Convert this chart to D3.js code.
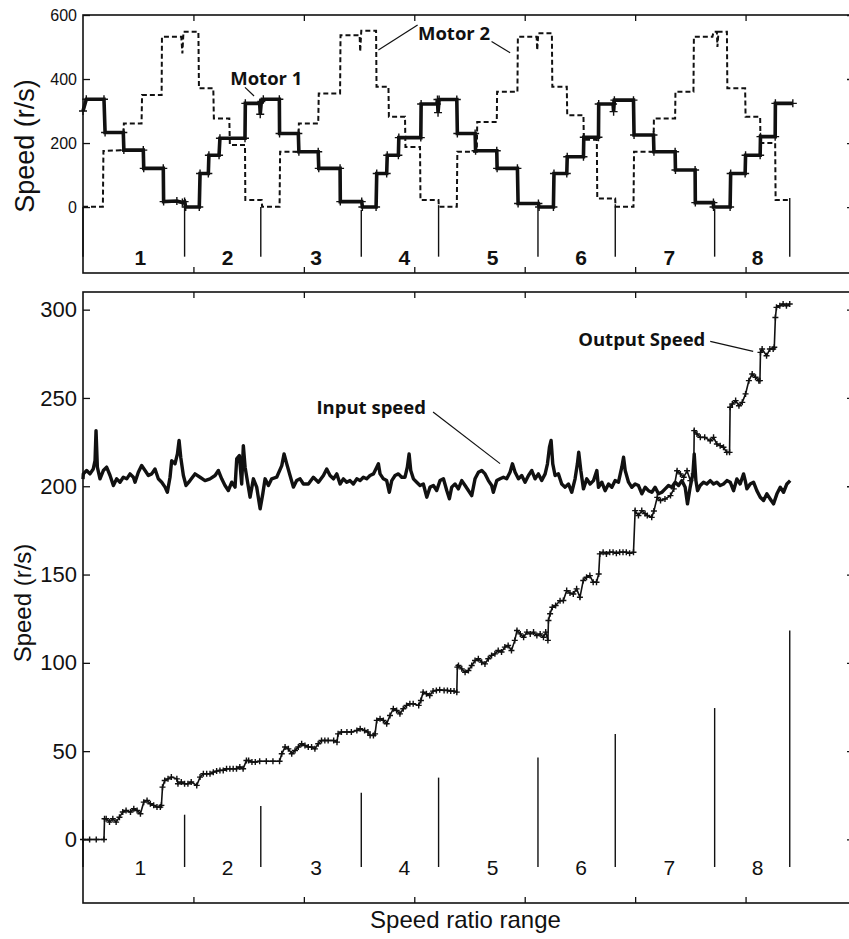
<!DOCTYPE html>
<html>
<head>
<meta charset="utf-8">
<script src="https://cdn.jsdelivr.net/npm/d3@7"></script>
<style>
  body { margin: 0; background: #fff; }
  svg { display: block; }
</style>
</head>
<body>
<svg id="chart" width="849" height="939"></svg>
<script>
// ---- data (time in arbitrary units along the speed-ratio sweep) ----
const rangeLabels = ['1', '2', '3', '4', '5', '6', '7', '8'];
const rangeLabelT = [0.52, 1.31, 2.11, 2.91, 3.71, 4.51, 5.31, 6.11];
const boundaryT = [0, 0.92, 1.61, 2.52, 3.22, 4.12, 4.82, 5.72, 6.40];
const topBoundaryTop = [0, 17, 0, -9, 6, -3, 9, -6, 28];
const bottomBoundaryTop = [11, 14, 19, 26.5, 35, 46.4, 59.7, 74.4, 118.3];

const topTicks = [0, 200, 400, 600];
const bottomTicks = [0, 50, 100, 150, 200, 250, 300];
const xTicks = [1, 2, 3, 4, 5, 6];

const motor1 = [
  [0, 300], [0.03, 337], [0.19, 337], [0.2, 233], [0.365, 233], [0.37, 178], [0.546, 178], [0.55, 121],
  [0.727, 121], [0.73, 17], [0.85, 19], [0.9, 14], [0.92, 17], [0.93, 0], [1.053, 0], [1.06, 105],
  [1.135, 105], [1.14, 162], [1.232, 162], [1.24, 215], [1.467, 215], [1.47, 324], [1.6, 324], [1.605, 290],
  [1.615, 330], [1.633, 337], [1.778, 337], [1.78, 230], [1.95, 230], [1.955, 173], [2.13, 173], [2.135, 121],
  [2.328, 121], [2.33, 17], [2.524, 17], [2.53, 0], [2.654, 0], [2.66, 105], [2.75, 105], [2.755, 162],
  [2.856, 162], [2.86, 217], [3.059, 217], [3.062, 322], [3.204, 322], [3.21, 336], [3.215, 295], [3.225, 336],
  [3.385, 336], [3.39, 230], [3.551, 230], [3.555, 176], [3.747, 176], [3.75, 121], [3.934, 121], [3.94, 11],
  [4.124, 11], [4.13, 0], [4.26, 0], [4.265, 105], [4.381, 105], [4.385, 157], [4.532, 157], [4.535, 218],
  [4.668, 218], [4.67, 322], [4.8, 322], [4.805, 298], [4.812, 334], [4.985, 334], [4.99, 225], [5.166, 225],
  [5.17, 173], [5.362, 173], [5.365, 116], [5.543, 116], [5.545, 14], [5.709, 14], [5.71, 0], [5.86, 0],
  [5.865, 105], [5.996, 105], [6.0, 162], [6.132, 162], [6.135, 220], [6.268, 220], [6.27, 324], [6.428, 324]
];

const motor2 = [
  [0, 1], [0.18, 1], [0.185, 175], [0.365, 178], [0.37, 261], [0.53, 261], [0.535, 350], [0.712, 350],
  [0.715, 532], [0.89, 532], [0.9, 480], [0.91, 548], [1.045, 548], [1.05, 371], [1.18, 371], [1.185, 277],
  [1.325, 277], [1.33, 194], [1.467, 194], [1.47, 22], [1.618, 22], [1.622, 1], [1.78, 1], [1.785, 173],
  [1.95, 173], [1.955, 261], [2.13, 261], [2.135, 355], [2.328, 355], [2.332, 537], [2.505, 537], [2.51, 485],
  [2.52, 551], [2.654, 551], [2.658, 376], [2.766, 376], [2.77, 282], [2.916, 282], [2.92, 188], [3.052, 188],
  [3.056, 22], [3.219, 22], [3.223, 1], [3.385, 1], [3.39, 173], [3.566, 173], [3.57, 266], [3.747, 266],
  [3.75, 360], [3.934, 360], [3.938, 532], [4.108, 532], [4.113, 490], [4.123, 543], [4.246, 543], [4.25, 376],
  [4.381, 376], [4.385, 287], [4.532, 287], [4.535, 210], [4.653, 210], [4.657, 27], [4.819, 27], [4.823, 1],
  [4.985, 1], [4.99, 173], [5.166, 173], [5.17, 277], [5.362, 277], [5.365, 360], [5.528, 360], [5.532, 532],
  [5.7, 532], [5.71, 548], [5.74, 548], [5.745, 500], [5.755, 548], [5.831, 548], [5.835, 371], [5.996, 371],
  [6.0, 282], [6.132, 282], [6.135, 200], [6.268, 200], [6.272, 22], [6.404, 22]
];

const inputSpeed = [
  [0, 204], [0.003, 207], [0.033, 208.9], [0.063, 207], [0.093, 209.8], [0.109, 214.5], [0.118, 231.5], [0.13, 210.8],
  [0.154, 204.2], [0.184, 208.9], [0.214, 210.8], [0.245, 206.1], [0.275, 200.4], [0.305, 204.2], [0.335, 202.3], [0.365, 205.1],
  [0.396, 204.2], [0.426, 207], [0.456, 205.1], [0.471, 202.3], [0.501, 207.9], [0.531, 211.7], [0.562, 208.9], [0.592, 206.1],
  [0.622, 207], [0.652, 209.8], [0.682, 204.2], [0.713, 202.3], [0.743, 199.5], [0.764, 196.6], [0.788, 205.1], [0.803, 214.5],
  [0.833, 212.7], [0.855, 218.3], [0.87, 225.9], [0.885, 216.4], [0.909, 206.1], [0.933, 200.4], [0.969, 203.2], [1.014, 207],
  [1.06, 205.1], [1.105, 203.2], [1.15, 204.2], [1.196, 206.1], [1.226, 208.9], [1.256, 204.2], [1.286, 200.4], [1.316, 197.6],
  [1.347, 202.3], [1.377, 199.5], [1.392, 215.5], [1.416, 217.4], [1.437, 201.3], [1.452, 223], [1.468, 210.8], [1.483, 205.1],
  [1.513, 193.8], [1.543, 204.2], [1.573, 199.5], [1.604, 187.2], [1.628, 195.7], [1.649, 204.2], [1.679, 200.4], [1.709, 204.2],
  [1.754, 205.1], [1.8, 211.7], [1.821, 218.3], [1.845, 212.7], [1.875, 206.1], [1.905, 199.5], [1.935, 203.2], [1.966, 204.2],
  [1.996, 201.3], [2.041, 201.3], [2.086, 205.1], [2.132, 202.3], [2.177, 206.1], [2.207, 209.8], [2.237, 206.1], [2.268, 204.2],
  [2.298, 207], [2.328, 201.3], [2.358, 204.2], [2.388, 202.3], [2.418, 203.2], [2.448, 201.3], [2.479, 204.2], [2.509, 203.2],
  [2.539, 205.1], [2.569, 204.2], [2.599, 206.1], [2.63, 207], [2.66, 210.8], [2.675, 212.7], [2.69, 207], [2.72, 204.2],
  [2.75, 203.2], [2.774, 196.6], [2.796, 203.2], [2.826, 206.1], [2.856, 207], [2.886, 205.1], [2.916, 205.1], [2.937, 210.8],
  [2.953, 218.3], [2.968, 208.9], [2.992, 204.2], [3.022, 202.3], [3.052, 200.4], [3.082, 201.3], [3.113, 193.8], [3.143, 199.5],
  [3.173, 200.4], [3.203, 197.6], [3.233, 203.2], [3.264, 204.2], [3.294, 197.6], [3.318, 192.9], [3.339, 199.5], [3.369, 201.3],
  [3.399, 198.5], [3.43, 203.2], [3.46, 200.4], [3.49, 197.6], [3.52, 194.7], [3.55, 204.2], [3.581, 207.9], [3.611, 208.9],
  [3.641, 207], [3.671, 203.2], [3.701, 200.4], [3.716, 196.6], [3.747, 203.2], [3.777, 204.2], [3.807, 205.1], [3.837, 204.2],
  [3.867, 207.9], [3.889, 212.7], [3.913, 207.9], [3.943, 204.2], [3.973, 206.1], [4.003, 202.3], [4.034, 206.1], [4.064, 208.9],
  [4.094, 204.2], [4.124, 207], [4.154, 203.2], [4.185, 207], [4.206, 212.7], [4.224, 222.1], [4.239, 225.9], [4.254, 212.7],
  [4.275, 206.1], [4.305, 207], [4.335, 201.3], [4.366, 199.5], [4.396, 201.3], [4.426, 196.6], [4.456, 204.2], [4.477, 212.7],
  [4.489, 219.3], [4.508, 208.9], [4.532, 198.5], [4.562, 204.2], [4.592, 201.3], [4.623, 203.2], [4.653, 208.9], [4.668, 199.4],
  [4.698, 202.3], [4.728, 197.5], [4.759, 201.3], [4.789, 199.4], [4.819, 203.2], [4.849, 202.3], [4.879, 210.8], [4.895, 216.4],
  [4.91, 208.9], [4.94, 202.3], [4.97, 199.4], [5.0, 201.3], [5.03, 200.4], [5.061, 195.7], [5.091, 199.4], [5.121, 197.5],
  [5.151, 196.6], [5.181, 199.4], [5.212, 195.7], [5.242, 196.6], [5.272, 198.5], [5.302, 200.4], [5.332, 199.4], [5.363, 202.3],
  [5.393, 200.4], [5.423, 203.2], [5.453, 199.4], [5.474, 190], [5.498, 199.4], [5.523, 207], [5.535, 218.3], [5.55, 203.2],
  [5.565, 197.5], [5.589, 200.4], [5.619, 202.3], [5.649, 201.3], [5.68, 203.2], [5.71, 201.3], [5.74, 202.3], [5.77, 200.4],
  [5.8, 201.3], [5.831, 203.2], [5.861, 202.3], [5.891, 197.5], [5.921, 204.1], [5.951, 201.3], [5.982, 207], [5.997, 203.2],
  [6.012, 198.5], [6.042, 201.3], [6.072, 202.3], [6.102, 197.5], [6.133, 193.8], [6.163, 191.9], [6.193, 195.7], [6.223, 192.8],
  [6.253, 190], [6.284, 195.7], [6.314, 199.4], [6.344, 196.6], [6.374, 201.3], [6.404, 203.2]
];

const outputSpeed = [
  [0, 0], [0.06, 0], [0.12, 0], [0.19, 0], [0.195, 11.7], [0.21, 11.7], [0.24, 9.8], [0.27, 11.7],
  [0.3, 9.8], [0.33, 12.6], [0.36, 15.5], [0.39, 16.4], [0.43, 15.5], [0.46, 17.4], [0.49, 16.4], [0.52, 14.5],
  [0.55, 21.1], [0.58, 22.1], [0.61, 20.2], [0.64, 19.3], [0.67, 18.3], [0.7, 18.3], [0.71, 19.3], [0.72, 29.6],
  [0.74, 33.4], [0.77, 34.3], [0.8, 35.3], [0.85, 34.3], [0.86, 31.5], [0.89, 32.5], [0.92, 31.5], [0.95, 31.5],
  [0.98, 32.5], [1.03, 30.6], [1.06, 35.3], [1.09, 37.2], [1.12, 37.2], [1.15, 37.2], [1.18, 38.1], [1.21, 38.7],
  [1.24, 39.1], [1.27, 39.1], [1.3, 40], [1.33, 40], [1.36, 40], [1.39, 40], [1.42, 41], [1.45, 40],
  [1.48, 44.7], [1.5, 44.7], [1.53, 43.8], [1.56, 43.8], [1.6, 44.3], [1.66, 44.3], [1.72, 44.3], [1.78, 44.3],
  [1.8, 48.5], [1.83, 52.3], [1.86, 51.3], [1.89, 48.5], [1.92, 50.4], [1.95, 52.3], [1.98, 54.2], [2.01, 53.2],
  [2.04, 52.3], [2.07, 52.3], [2.1, 51.3], [2.13, 54.2], [2.16, 56], [2.19, 56], [2.22, 56], [2.27, 56],
  [2.3, 55.1], [2.31, 59.8], [2.34, 60.8], [2.39, 60.8], [2.43, 60.8], [2.48, 61.7], [2.51, 62.7], [2.55, 61.7],
  [2.58, 60.8], [2.6, 58.9], [2.63, 58.9], [2.645, 59.8], [2.66, 67.4], [2.69, 68.3], [2.72, 67.4], [2.75, 65.5],
  [2.78, 70.2], [2.81, 74], [2.84, 73], [2.87, 71.1], [2.9, 74], [2.93, 75.9], [2.96, 76.8], [2.99, 76.8],
  [3.04, 75.9], [3.06, 78.7], [3.08, 83.4], [3.11, 82.5], [3.14, 81.5], [3.17, 84], [3.2, 84.4], [3.23, 84.7],
  [3.27, 84.4], [3.3, 84.4], [3.33, 84], [3.36, 84], [3.385, 83.4], [3.39, 97.6], [3.4, 98.5], [3.43, 96.6],
  [3.46, 94.7], [3.49, 95.7], [3.52, 98.5], [3.55, 101.3], [3.58, 102.3], [3.61, 100.4], [3.64, 99.4], [3.67, 102.3],
  [3.7, 104.2], [3.73, 105.1], [3.76, 107], [3.79, 106.1], [3.82, 108.9], [3.85, 109.8], [3.88, 107], [3.91, 112.7],
  [3.93, 118.3], [3.96, 116.4], [3.99, 114.5], [4.02, 117.4], [4.05, 116.4], [4.08, 117.4], [4.11, 115.5], [4.14, 116.4],
  [4.17, 114.5], [4.19, 117.4], [4.21, 112.7], [4.215, 124], [4.23, 127.8], [4.25, 131.5], [4.28, 132.5], [4.32, 135.2],
  [4.35, 135.3], [4.38, 140.9], [4.41, 139.5], [4.44, 139], [4.47, 141.9], [4.5, 137.1], [4.53, 146.6], [4.56, 148.5],
  [4.59, 149.4], [4.62, 145.6], [4.65, 145.6], [4.67, 150.3], [4.68, 161.7], [4.71, 162.6], [4.74, 161.7], [4.77, 162.6],
  [4.8, 162.6], [4.83, 162.1], [4.86, 162.6], [4.89, 162.6], [4.92, 162.6], [4.95, 162.1], [4.985, 162.6], [5.0, 186.2],
  [5.03, 183.4], [5.06, 186.2], [5.09, 184.5], [5.11, 183.4], [5.15, 182.4], [5.17, 186], [5.2, 193.7], [5.23, 191.9],
  [5.27, 192.8], [5.32, 194.7], [5.35, 198.5], [5.38, 208.8], [5.41, 207], [5.44, 205.1], [5.47, 208.8], [5.5, 203.2],
  [5.53, 207], [5.535, 231.5], [5.56, 229.6], [5.59, 227.7], [5.63, 227.7], [5.68, 225.8], [5.71, 227.7], [5.74, 223.9],
  [5.77, 223], [5.8, 222.1], [5.83, 219.2], [5.855, 219.2], [5.86, 244.7], [5.88, 246.6], [5.91, 248.5], [5.94, 245.6],
  [5.97, 247.5], [6.0, 252.3], [6.03, 259.8], [6.06, 263.6], [6.09, 261.7], [6.12, 259.8], [6.13, 259.8], [6.135, 275.8],
  [6.15, 277.7], [6.19, 273.9], [6.22, 277.7], [6.25, 277.7], [6.26, 278.7], [6.27, 295.6], [6.28, 301.3], [6.31, 302.2],
  [6.34, 303.2], [6.37, 302.2], [6.4, 303.2]
];

// annotations: [text, t, v, leader segments [[t1,v1,t2,v2], ...]]
const topNotes = [
  ['Motor 1', 1.66, 381, [[1.467, 374, 1.549, 347]]],
  ['Motor 2', 3.36, 522, [[3.03, 569, 2.675, 491], [3.70, 517, 3.868, 482]]]
];
const bottomNotes = [
  ['Input speed', 2.61, 241, [[3.17, 242, 3.777, 212.8]]],
  ['Output Speed', 5.06, 279.6, [[5.68, 282, 6.069, 276.4]]]
];

// ---- layout ----
const svg = d3.select('#chart');
const x = d3.scaleLinear().domain([0, 7]).range([83, 856]);
const yTop = d3.scaleLinear().domain([-206, 600]).range([273, 15]);
const yBot = d3.scaleLinear().domain([-36, 310]).range([903, 292]);
const ink = '#111';

const plus = s => `M${-s},0H${s}M0,${-s}V${s}`;

function frame(y, yTicks, labelSize) {
  const [y0, y1] = y.range();
  svg.append('g')
    .attr('transform', `translate(${x.range()[0]},0)`)
    .call(d3.axisLeft(y).tickValues(yTicks).tickSize(-7).tickPadding(6))
    .call(g => g.select('.domain').remove())
    .call(g => g.selectAll('text')
      .attr('font-family', 'Liberation Sans, Arial, sans-serif')
      .attr('font-size', labelSize).attr('fill', ink));
  svg.append('g')
    .attr('transform', `translate(${x.range()[1]},0)`)
    .call(d3.axisRight(y).tickValues(yTicks).tickSize(-9).tickFormat(''))
    .call(g => g.select('.domain').remove());
  svg.append('g')
    .attr('transform', `translate(0,${y1})`)
    .call(d3.axisTop(x).tickValues(xTicks).tickSize(-6).tickFormat(''))
    .call(g => g.select('.domain').remove());
  svg.append('g')
    .attr('transform', `translate(0,${y0})`)
    .call(d3.axisBottom(x).tickValues(xTicks).tickSize(-6).tickFormat(''))
    .call(g => g.select('.domain').remove());
  svg.selectAll('.tick line').attr('stroke', ink).attr('stroke-width', 1.3);
  svg.append('rect')
    .attr('x', x.range()[0]).attr('y', y1)
    .attr('width', x.range()[1] - x.range()[0]).attr('height', y0 - y1)
    .attr('fill', 'none').attr('stroke', ink).attr('stroke-width', 1.6);
}

function ranges(y, tops, bottomV, labelV, bold) {
  svg.append('g').selectAll('line')
    .data(boundaryT)
    .join('line')
      .attr('x1', d => x(d)).attr('x2', d => x(d))
      .attr('y1', (d, i) => y(tops[i])).attr('y2', y(bottomV))
      .attr('stroke', ink).attr('stroke-width', 1.4);
  svg.append('g').selectAll('text')
    .data(rangeLabels)
    .join('text')
      .attr('x', (d, i) => x(rangeLabelT[i]))
      .attr('y', y(labelV))
      .attr('text-anchor', 'middle')
      .attr('font-family', 'Liberation Sans, Arial, sans-serif')
      .attr('font-size', 21)
      .attr('font-weight', bold ? 'bold' : 'normal')
      .attr('fill', ink)
      .text(d => d);
}

function notes(y, list) {
  list.forEach(([label, t, v, leaders]) => {
    svg.append('text')
      .attr('x', x(t)).attr('y', y(v))
      .attr('text-anchor', 'middle')
      .attr('font-family', 'Open Sans, DejaVu Sans, sans-serif')
      .attr('font-size', 18.5).attr('font-weight', 'bold')
      .attr('fill', ink)
      .text(label);
    leaders.forEach(([ta, va, tb, vb]) => {
      svg.append('line')
        .attr('x1', x(ta)).attr('y1', y(va))
        .attr('x2', x(tb)).attr('y2', y(vb))
        .attr('stroke', ink).attr('stroke-width', 1.2);
    });
  });
}

// ---- top panel: motor speeds ----
frame(yTop, topTicks, 16);
ranges(yTop, topBoundaryTop, -155, -181, true);

const lineTop = d3.line().x(d => x(d[0])).y(d => yTop(d[1]));
svg.append('path')
  .datum(motor2)
  .attr('d', lineTop)
  .attr('fill', 'none').attr('stroke', ink)
  .attr('stroke-width', 2).attr('stroke-dasharray', '5,3');
svg.append('path')
  .datum(motor1)
  .attr('d', lineTop)
  .attr('fill', 'none').attr('stroke', ink).attr('stroke-width', 3.6);
svg.append('g').selectAll('path')
  .data(motor1)
  .join('path')
    .attr('transform', d => `translate(${x(d[0])},${yTop(d[1])})`)
    .attr('d', plus(4))
    .attr('stroke', ink).attr('stroke-width', 1.4);
notes(yTop, topNotes);

svg.append('text')
  .attr('transform', `translate(34,146) rotate(-90)`)
  .attr('text-anchor', 'middle')
  .attr('font-family', 'Liberation Sans, Arial, sans-serif')
  .attr('font-size', 27).attr('fill', ink)
  .text('Speed (r/s)');

// ---- bottom panel: input and output speed ----
frame(yBot, bottomTicks, 22);
ranges(yBot, bottomBoundaryTop, -15.6, -20.3, false);

const lineBot = d3.line().x(d => x(d[0])).y(d => yBot(d[1]));
svg.append('path')
  .datum(inputSpeed)
  .attr('d', lineBot)
  .attr('fill', 'none').attr('stroke', ink)
  .attr('stroke-width', 3.4).attr('stroke-linejoin', 'round');
svg.append('path')
  .datum(outputSpeed)
  .attr('d', lineBot)
  .attr('fill', 'none').attr('stroke', ink).attr('stroke-width', 1.6);
svg.append('g').selectAll('path')
  .data(outputSpeed)
  .join('path')
    .attr('transform', d => `translate(${x(d[0])},${yBot(d[1])})`)
    .attr('d', plus(3))
    .attr('stroke', ink).attr('stroke-width', 1.4);
notes(yBot, bottomNotes);

svg.append('text')
  .attr('transform', `translate(31,603) rotate(-90)`)
  .attr('text-anchor', 'middle')
  .attr('font-family', 'Liberation Sans, Arial, sans-serif')
  .attr('font-size', 24).attr('fill', ink)
  .text('Speed (r/s)');

svg.append('text')
  .attr('x', (x.range()[0] + x.range()[1]) / 2 - 4)
  .attr('y', 928)
  .attr('text-anchor', 'middle')
  .attr('font-family', 'Liberation Sans, Arial, sans-serif')
  .attr('font-size', 24).attr('fill', ink)
  .text('Speed ratio range');
</script>
</body>
</html>
